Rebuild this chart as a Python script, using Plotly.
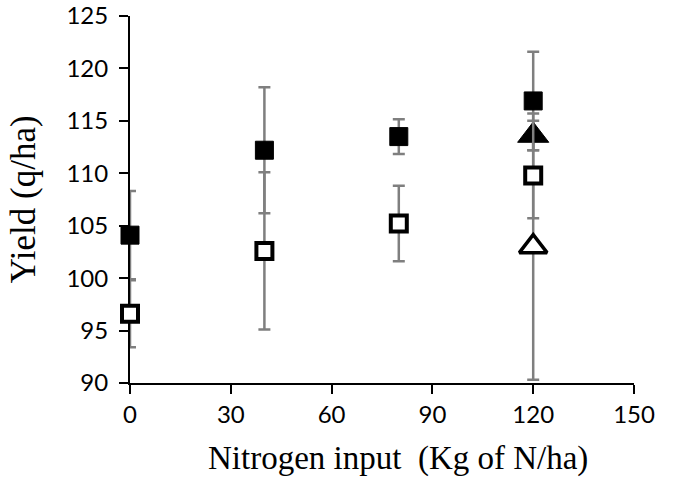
import plotly.graph_objects as go

# Data
x_sq = [0, 40, 80, 120]
filled_sq = [104.1, 112.2, 113.5, 116.9]
filled_sq_err = [4.2, 6.0, 1.65, 4.7]
open_sq = [96.6, 102.6, 105.2, 109.8]
open_sq_err = [3.2, 7.5, 3.6, 4.1]

x_tri = [120]
filled_tri = [113.6]
filled_tri_err = [1.4]
open_tri = [103.0]
open_tri_err = [12.7]

x_ticks = [0, 30, 60, 90, 120, 150]
y_ticks = [90, 95, 100, 105, 110, 115, 120, 125]

x_title = "Nitrogen input  (Kg of N/ha)"
y_title = "Yield (q/ha)"

err_color = "#7f7f7f"

def err(vals):
    return dict(type="data", array=vals, visible=True, color=err_color,
                thickness=2.5, width=6)

fig = go.Figure()
fig.add_trace(go.Scatter(x=x_tri, y=open_tri, mode="markers", error_y=err(open_tri_err),
                         marker=dict(symbol="triangle-up", size=24, color="white",
                                     line=dict(color="black", width=3.5)),
                         cliponaxis=False, showlegend=False))
fig.add_trace(go.Scatter(x=x_sq, y=open_sq, mode="markers", error_y=err(open_sq_err),
                         marker=dict(symbol="square", size=16, color="white",
                                     line=dict(color="black", width=4)),
                         cliponaxis=False, showlegend=False))
fig.add_trace(go.Scatter(x=x_tri, y=filled_tri, mode="markers", error_y=err(filled_tri_err),
                         marker=dict(symbol="triangle-up", size=27, color="black",
                                     line=dict(color="black", width=1)),
                         cliponaxis=False, showlegend=False))
fig.add_trace(go.Scatter(x=x_sq, y=filled_sq, mode="markers", error_y=err(filled_sq_err),
                         marker=dict(symbol="square", size=18, color="black",
                                     line=dict(color="black", width=1)),
                         cliponaxis=False, showlegend=False))

tick_font = dict(family="Lato, Open Sans, sans-serif", size=24, color="black")
xtitle_font = dict(family="Liberation Serif, Times New Roman, serif", size=33, color="black")
ytitle_font = dict(family="Liberation Serif, Times New Roman, serif", size=35, color="black")

fig.update_layout(
    width=675, height=481,
    margin=dict(l=130, r=41, t=16, b=98, autoexpand=False),
    paper_bgcolor="white", plot_bgcolor="white",
    xaxis=dict(range=[0, 150], tickvals=x_ticks, ticktext=[str(v) for v in x_ticks],
               ticks="outside", ticklen=9, tickwidth=2, tickcolor="black",
               showline=True, linecolor="black", linewidth=2, showgrid=False,
               zeroline=False, tickfont=tick_font, layer="below traces",
               ticklabeloverflow="allow"),
    yaxis=dict(range=[89.999, 125.001], tickvals=y_ticks, ticktext=[str(v) for v in y_ticks],
               ticks="outside", ticklen=9, tickwidth=2, tickcolor="black",
               showline=True, linecolor="black", linewidth=2, showgrid=False,
               zeroline=False, tickfont=tick_font, layer="below traces",
               ticklabeloverflow="allow", ticklabelstandoff=6,
               title=dict(text=y_title, font=ytitle_font, standoff=20)),
    annotations=[dict(text=x_title, xref="paper", yref="paper", x=0.532, y=-0.205,
                      xanchor="center", yanchor="middle", showarrow=False, font=xtitle_font)],
)

fig.write_html("out.html", config={"displayModeBar": False},
               post_script="document.body.style.margin='0';")
